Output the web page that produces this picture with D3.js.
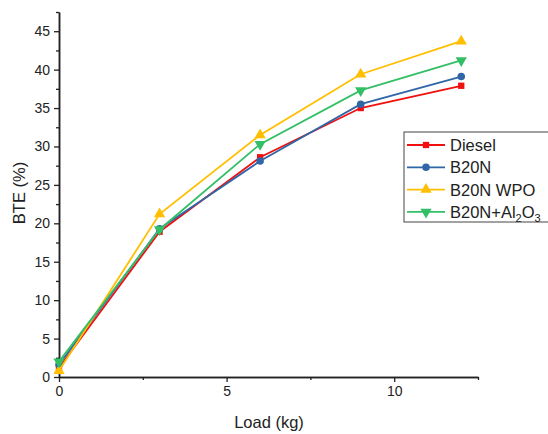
<!DOCTYPE html>
<html>
<head>
<meta charset="utf-8">
<script src="https://cdn.jsdelivr.net/npm/d3@7"></script>
<style>
  body { margin: 0; background: #fff; }
  text { font-family: "Liberation Sans", Arial, sans-serif; fill: #222; }
</style>
</head>
<body>
<div id="chart"></div>
<script>
// Data
const loads = [0, 3, 6, 9, 12];
const diesel = [1.2, 18.9, 28.6, 35.0, 37.9];
const b20n = [1.6, 19.3, 28.1, 35.5, 39.1];
const b20nWpo = [0.8, 21.2, 31.5, 39.4, 43.7];
const b20nAl2o3 = [2.0, 19.2, 30.3, 37.3, 41.2];
const xTicks = [0, 5, 10];
const yTicks = [0, 5, 10, 15, 20, 25, 30, 35, 40, 45];

const series = [
  { name: "Diesel", values: diesel, color: "#f01010", symbol: d3.symbolSquare, size: 40, rot: 0 },
  { name: "B20N", values: b20n, color: "#2f66a6", symbol: d3.symbolCircle, size: 45, rot: 0 },
  { name: "B20N WPO", values: b20nWpo, color: "#ffbf00", symbol: d3.symbolTriangle, size: 55, rot: 0 },
  { name: "B20N+Al2O3", values: b20nAl2o3, color: "#33bf66", symbol: d3.symbolTriangle, size: 55, rot: 180 }
];

const width = 548, height = 434;
const svg = d3.select("#chart").append("svg")
    .attr("width", width)
    .attr("height", height);

const x = d3.scaleLinear().domain([0, 12.5]).range([59, 478]);
const y = d3.scaleLinear().domain([0, 47.5]).range([377, 12]);

// Axes
svg.append("g")
    .attr("transform", `translate(0,${y(0)})`)
    .call(d3.axisBottom(x).tickValues(xTicks).tickSize(5).tickSizeOuter(0).tickPadding(4));
svg.append("g")
    .attr("transform", `translate(0,${y(0)})`)
    .call(d3.axisBottom(x).tickValues([2.5, 7.5, 12.5]).tickSize(3).tickSizeOuter(0).tickFormat(""));

svg.append("g")
    .attr("transform", `translate(${x(0)},0)`)
    .call(d3.axisLeft(y).tickValues(yTicks).tickSize(5).tickSizeOuter(0).tickPadding(4));
svg.append("g")
    .attr("transform", `translate(${x(0)},0)`)
    .call(d3.axisLeft(y).tickValues(d3.range(2.5, 48, 5)).tickSize(3).tickSizeOuter(0).tickFormat(""));

svg.selectAll(".domain").attr("stroke", "#222").attr("stroke-width", 1.5);
svg.selectAll(".tick line").attr("stroke", "#222").attr("stroke-width", 1.3);
svg.selectAll(".tick text").style("font-size", "14px").style("font-family", "Liberation Sans, Arial, sans-serif").attr("fill", "#222");

// Axis titles
svg.append("text")
    .attr("x", 269)
    .attr("y", 428)
    .attr("text-anchor", "middle")
    .style("font-size", "16.5px")
    .text("Load (kg)");
svg.append("text")
    .attr("transform", "translate(25,193) rotate(-90)")
    .attr("text-anchor", "middle")
    .style("font-size", "16.5px")
    .text("BTE (%)");

// Lines and markers
const line = d3.line()
    .x((d, i) => x(loads[i]))
    .y(d => y(d));

series.forEach(s => {
  svg.append("path")
      .datum(s.values)
      .attr("fill", "none")
      .attr("stroke", s.color)
      .attr("stroke-width", 1.8)
      .attr("d", line);
  svg.append("g").selectAll("path")
    .data(s.values)
    .enter().append("path")
      .attr("transform", (d, i) => `translate(${x(loads[i])},${y(d)}) rotate(${s.rot})`)
      .attr("d", d3.symbol().type(s.symbol).size(s.size))
      .attr("fill", s.color);
});

// Legend
const legend = svg.append("g").attr("transform", "translate(404,132)");
legend.append("rect")
    .attr("width", 150)
    .attr("height", 90)
    .attr("fill", "#fff")
    .attr("stroke", "#444")
    .attr("stroke-width", 1);
const rows = legend.selectAll("g.row")
  .data(series)
  .enter().append("g")
    .attr("class", "row")
    .attr("transform", (d, i) => `translate(0,${13 + i * 22.3})`);
rows.append("line")
    .attr("x1", 3).attr("x2", 41)
    .attr("stroke", d => d.color)
    .attr("stroke-width", 1.8);
rows.append("path")
    .attr("transform", d => `translate(22,0) rotate(${d.rot})`)
    .attr("d", d => d3.symbol().type(d.symbol).size(d.size)())
    .attr("fill", d => d.color);
const labels = rows.append("text")
    .attr("x", 46)
    .attr("dy", "0.36em")
    .style("font-size", "16.5px");
labels.each(function(d) {
  const t = d3.select(this);
  if (d.name === "B20N+Al2O3") {
    t.append("tspan").text("B20N+Al");
    t.append("tspan").attr("dy", 4).style("font-size", "11px").text("2");
    t.append("tspan").attr("dy", -4).text("O");
    t.append("tspan").attr("dy", 4).style("font-size", "11px").text("3");
  } else {
    t.text(d.name);
  }
});
</script>
</body>
</html>
